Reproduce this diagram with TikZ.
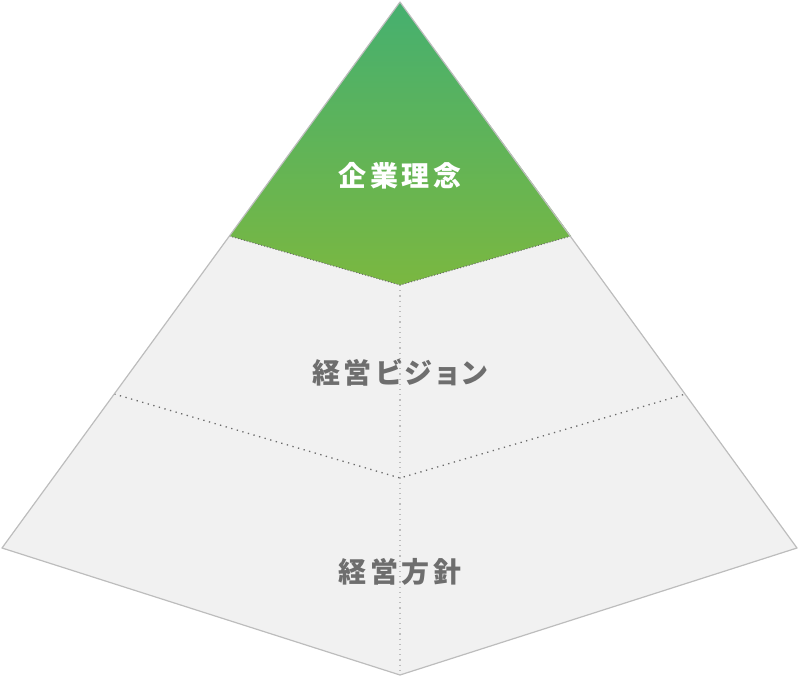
\documentclass[tikz,border=0pt]{standalone}
\usepackage{fontspec}
\newfontfamily\jpfont{Noto Sans CJK JP}[LetterSpace=13,RawFeature=+palt]
\definecolor{gtop}{HTML}{33AD80}
\definecolor{gbot}{HTML}{7DB83E}
\definecolor{edge}{HTML}{BDBDBD}
\definecolor{face}{HTML}{F1F1F1}
\definecolor{dotc}{HTML}{6A6A6A}
\definecolor{txt}{HTML}{6E6E6E}
\tikzset{
  outline/.style={draw=edge, line width=1.2pt, line join=round},
  seam/.style={draw=dotc, line width=1pt, dash pattern=on 1pt off 2pt},
  seamwide/.style={draw=dotc, line width=1.3pt, dash pattern=on 1.3pt off 4.5pt},
  spine/.style={draw=edge, line width=1.2pt, dash pattern=on 1.2pt off 4pt},
  label/.style={font=\jpfont\bfseries\fontsize{28}{28}\selectfont, text=txt, inner sep=0pt},
}
\begin{document}
\begin{tikzpicture}[x=1pt,y=-1pt]
\useasboundingbox (0,0) rectangle (798,677);
\coordinate (apex) at (400,2);
\coordinate (L) at (2,548);
\coordinate (R) at (797,548);
\coordinate (B) at (400,675);
\coordinate (gL) at (229.4,236);
\coordinate (gM) at (400,285);
\coordinate (gR) at (571,236);
\coordinate (mL) at (114.3,394);
\coordinate (mM) at (400,478);
\coordinate (mR) at (685.5,394);
% base face
\fill[face] (apex) -- (L) -- (B) -- (R) -- cycle;
% green top
\begin{scope}
  \clip (apex) -- (gL) -- (gM) -- (gR) -- cycle;
  \shade[top color=gtop, bottom color=gbot] (220,-97) rectangle (580,299);
\end{scope}
% spine
\draw[spine] (gM) -- (B);
% seams
\draw[seam] (gL) -- (gM) -- (gR);
\draw[seamwide] (mL) -- (mM) -- (mR);
% outline
\draw[outline] (apex) -- (L) -- (B) -- (R) -- cycle;
% labels
\node[label, text=white] (t1) at (400,176) {企業理念};
\node[label] (t2) at (400,373) {経営ビジョン};
\node[label] (t3) at (400,572) {経営方針};
\end{tikzpicture}
\end{document}
